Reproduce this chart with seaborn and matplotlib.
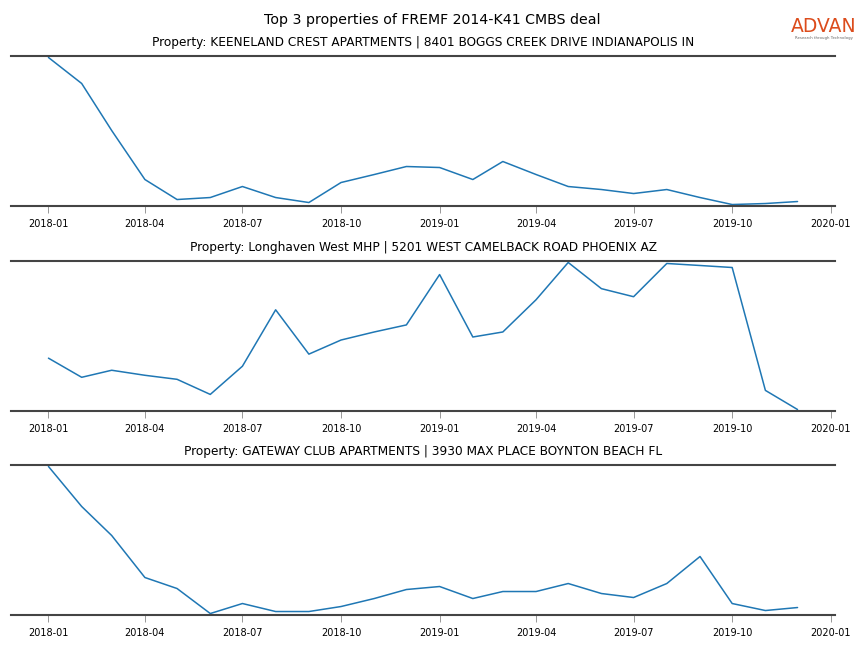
import matplotlib
matplotlib.use("Agg")
import matplotlib.pyplot as plt
import matplotlib.dates as mdates
import seaborn as sns
import pandas as pd
import numpy as np

months = pd.date_range("2018-01-01", "2019-12-01", freq="MS")

titles = [
    "Property: KEENELAND CREST APARTMENTS | 8401 BOGGS CREEK DRIVE INDIANAPOLIS IN",
    "Property: Longhaven West MHP | 5201 WEST CAMELBACK ROAD PHOENIX AZ",
    "Property: GATEWAY CLUB APARTMENTS | 3930 MAX PLACE BOYNTON BEACH FL",
]

keeneland = [148, 122, 75, 26, 6, 8, 19, 8, 3, 23, 31, 39, 38, 26, 44, 31, 19, 16, 12, 16, 8, 1, 2, 4]
longhaven = [51, 32, 39, 34, 30, 15, 43, 99, 55, 69, 77, 84, 134, 72, 77, 109, 146, 120, 112, 145, 143, 141, 19, 0]
gateway = [148, 108, 79, 37, 26, 1, 11, 3, 3, 8, 16, 25, 28, 16, 23, 23, 31, 21, 17, 31, 58, 11, 4, 7]

series = [keeneland, longhaven, gateway]

sns.set_style("white")
plt.rcParams['font.family'] = ['DejaVu Sans']
plt.rcParams['text.color'] = 'black'
plt.rcParams['xtick.color'] = 'black'
plt.rcParams['axes.titlecolor'] = 'black'

fig = plt.figure(figsize=(8.64, 6.48), dpi=100)
left = 11 / 864
width = (835 - 11) / 864
tops = [56, 261, 465]
h = 150
axes = []
for t in tops:
    ax = fig.add_axes([left, 1 - (t + h) / 648, width, h / 648])
    axes.append(ax)

for ax, vals, title in zip(axes, series, titles):
    df = pd.DataFrame({"date": months, "value": vals})
    sns.lineplot(data=df, x="date", y="value", ax=ax, color="#1f77b4", linewidth=1.1)
    ax.margins(x=0.05, y=0.01)
    ax.set_title(title, fontsize=8.7, pad=7.5)
    ax.set_xlabel("")
    ax.set_ylabel("")
    ax.set_yticks([])
    ax.xaxis.set_major_locator(mdates.MonthLocator(bymonth=[1, 4, 7, 10]))
    ax.xaxis.set_major_formatter(mdates.DateFormatter("%Y-%m"))
    ax.tick_params(axis="x", labelsize=7, length=5, width=0.6, color="#888888",
                   labelcolor="black", bottom=True, direction="out", pad=4.5)
    for s in ["left", "right"]:
        ax.spines[s].set_visible(False)
    for s in ["top", "bottom"]:
        ax.spines[s].set_visible(True)
        ax.spines[s].set_color("#444444")
        ax.spines[s].set_linewidth(1.5)

fig.suptitle("Top 3 properties of FREMF 2014-K41 CMBS deal", fontsize=10.2, y=1 - 20 / 648, va="center")

fig.text(824 / 864, 1 - 27 / 648, "ADVAN", fontsize=13.5, color="#dc4c1c",
         ha="center", va="center", weight="medium")
fig.text(824 / 864, 1 - 38 / 648, "Research through Technology", fontsize=2.8,
         color="#666666", ha="center", va="center")

fig.savefig("out.png", dpi=100)
